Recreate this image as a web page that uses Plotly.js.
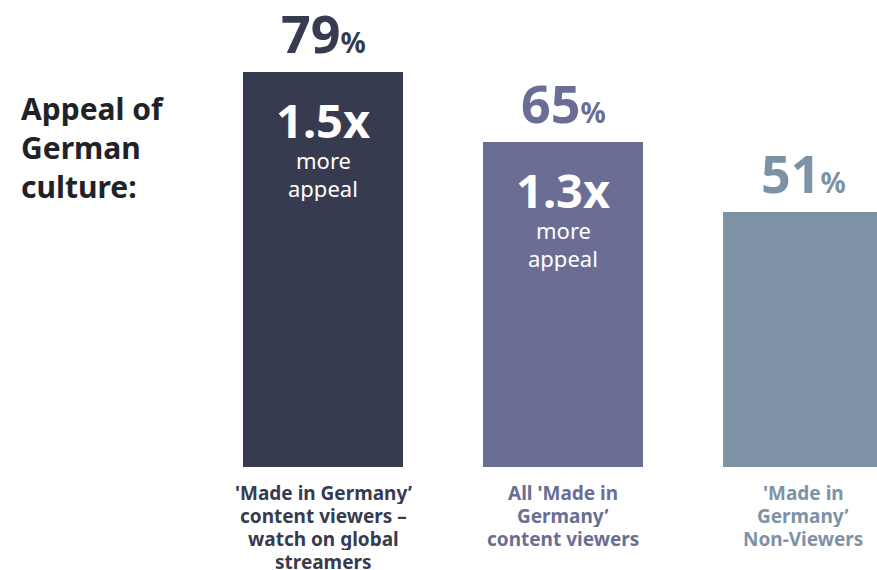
<!DOCTYPE html>
<html>
<head>
<meta charset="utf-8">
<script src="https://cdn.plot.ly/plotly-3.0.1.min.js"></script>
<style>html,body{margin:0;padding:0;background:#fff;}#chart{width:877px;height:570px;}</style>
</head>
<body>
<div id="chart"></div>
<script>
var categories = [
  ["'Made in Germany’", "content viewers –", "watch on global", "streamers"],
  ["All 'Made in", "Germany’", "content viewers"],
  ["'Made in", "Germany’", "Non-Viewers"]
];
var values = [79, 65, 51];
var multipliers = ["1.5x", "1.3x", null];
var colors = ["#373b4f", "#6a6e95", "#7e92a6"];
var sideTitle = ["Appeal of", "German", "culture:"];

var FONT = "'Noto Sans', 'Open Sans', sans-serif";
var xs = values.map(function(v, i){ return i; });

var trace = {
  type: 'bar',
  x: xs,
  y: values,
  width: 0.6667,
  marker: {color: colors, line: {width: 0}},
  hoverinfo: 'none',
  cliponaxis: true
};

var annotations = [];
values.forEach(function(v, i){
  annotations.push({
    x: i, y: v, xref: 'x', yref: 'y', showarrow: false,
    yanchor: 'middle', yshift: 40, height: 56,
    text: '<b>' + v + '</b><b><span style="font-size:28px">%</span></b>',
    font: {family: FONT, size: 52, color: colors[i]}
  });
  categories[i].forEach(function(line, k){
    annotations.push({
      x: i, y: 0, xref: 'x', yref: 'y', showarrow: false,
      yanchor: 'middle', yshift: -(26 + 23 * k), height: 22,
      text: '<b>' + line + '</b>',
      font: {family: FONT, size: 19, color: colors[i]}
    });
  });
  if (multipliers[i]) {
    annotations.push({
      x: i, y: v, xref: 'x', yref: 'y', showarrow: false,
      yanchor: 'middle', yshift: -48, height: 40,
      text: '<b>' + multipliers[i] + '</b>',
      font: {family: FONT, size: 47, color: '#ffffff'}
    });
    ['more', 'appeal'].forEach(function(w, k){
      annotations.push({
        x: i, y: v, xref: 'x', yref: 'y', showarrow: false,
        yanchor: 'middle', yshift: -(88 + 28 * k), height: 26,
        text: w,
        font: {family: FONT, size: 22, color: '#ffffff'}
      });
    });
  }
});
sideTitle.forEach(function(line, k){
  annotations.push({
    x: 19/877, y: 1 - (108 + 39 * k)/570, xref: 'paper', yref: 'paper', showarrow: false,
    text: '<b>' + line + '</b>', align: 'left',
    xanchor: 'left', yanchor: 'middle', height: 36,
    font: {family: FONT, size: 30, color: '#1f2328'}
  });
});

var layout = {
  width: 877, height: 570,
  margin: {l: 0, r: 0, t: 0, b: 0},
  paper_bgcolor: '#ffffff', plot_bgcolor: '#ffffff',
  showlegend: false,
  xaxis: {range: [-323/240, (877-323)/240], visible: false, showgrid: false, zeroline: false, fixedrange: true},
  yaxis: {range: [-103/5, 467/5], visible: false, showgrid: false, zeroline: false, fixedrange: true},
  annotations: annotations,
  font: {family: FONT}
};

Plotly.newPlot('chart', [trace], layout, {displayModeBar: false, staticPlot: true});
</script>
</body>
</html>
